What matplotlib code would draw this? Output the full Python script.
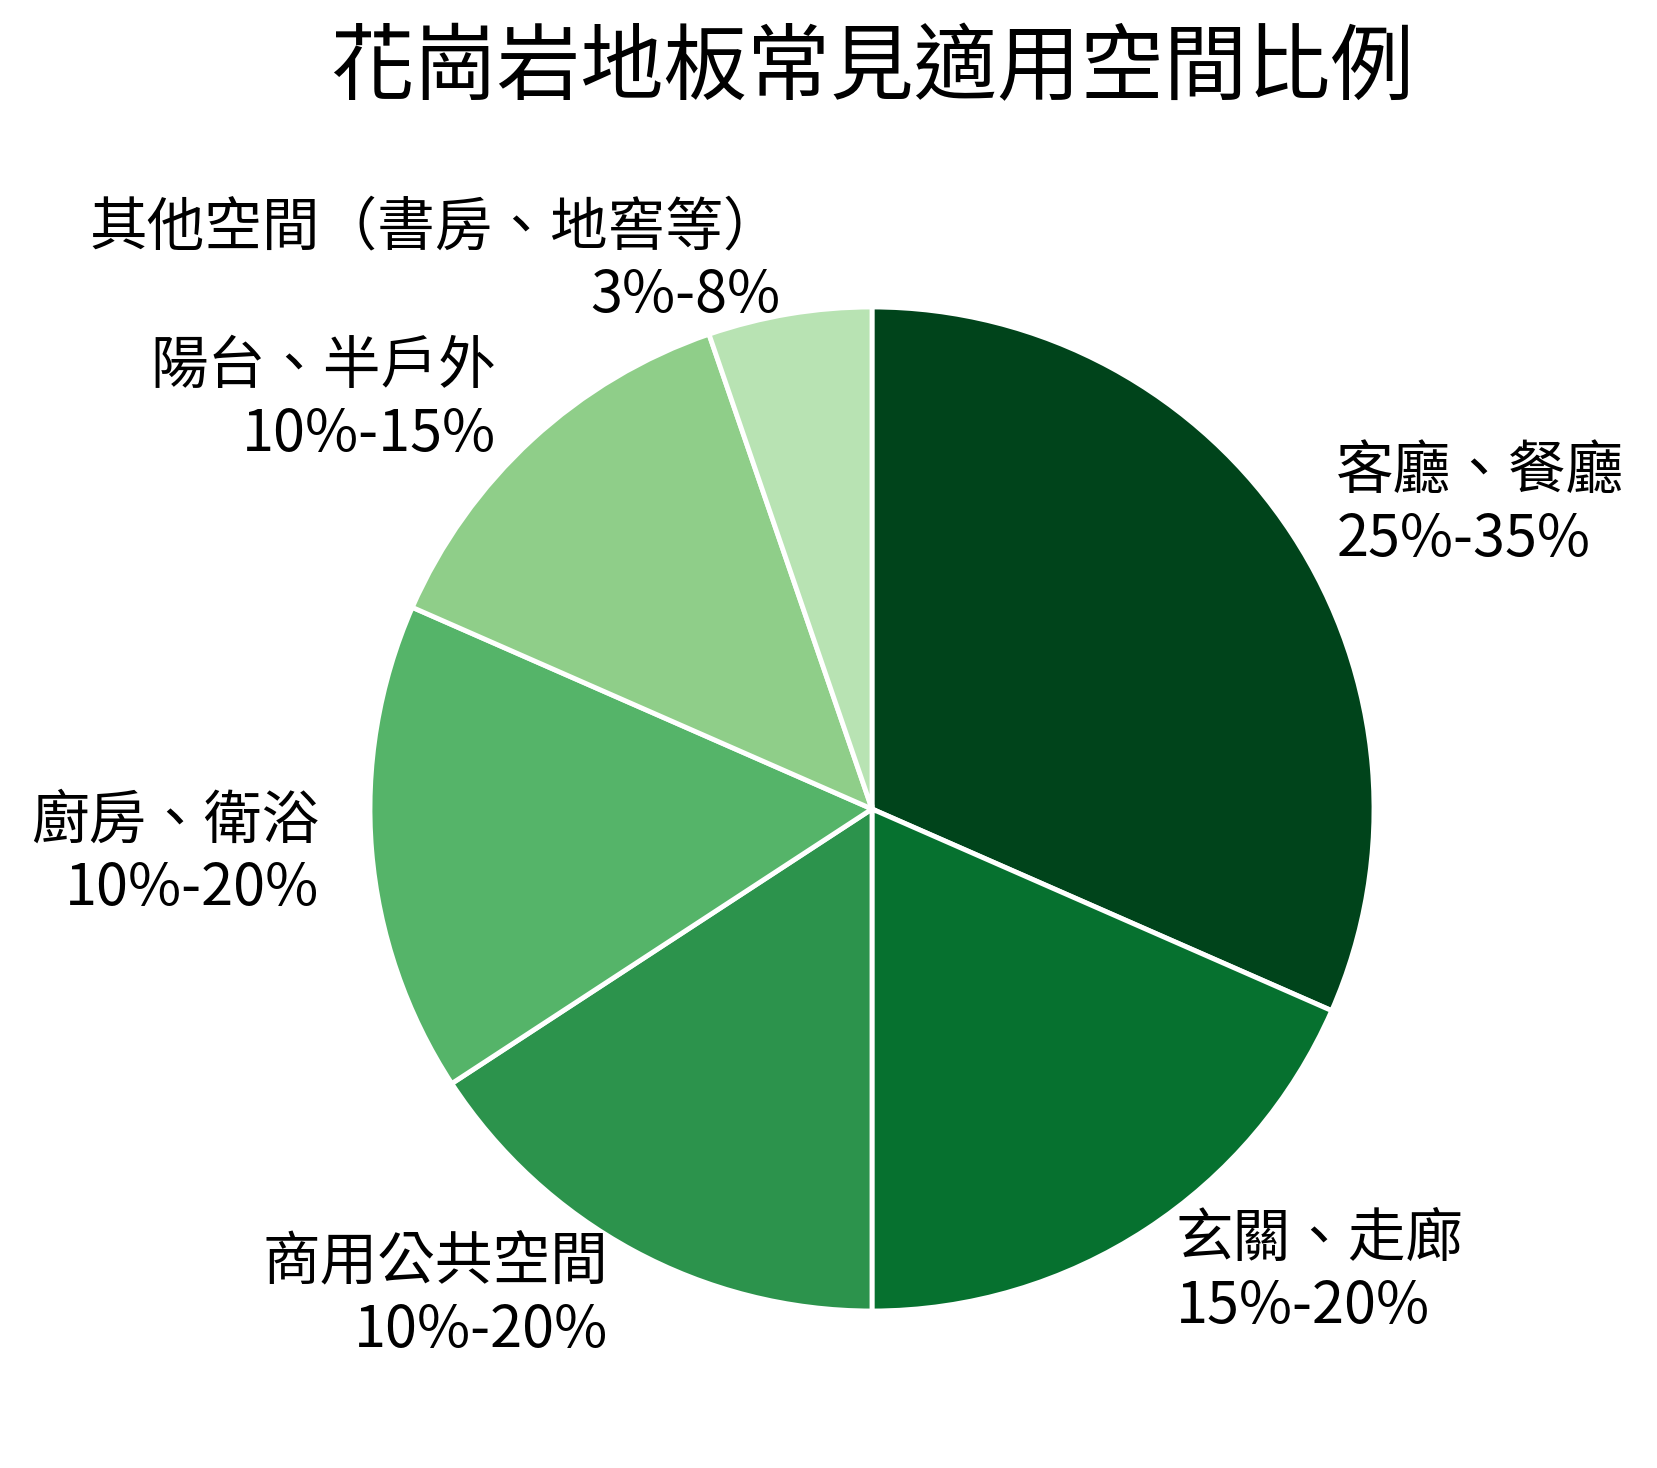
import matplotlib.pyplot as plt

plt.rcParams['font.family'] = ['Noto Sans CJK TC', 'DejaVu Sans']

titulo = '花崗岩地板常見適用空間比例'
espacios = ['客廳、餐廳', '玄關、走廊', '商用公共空間', '廚房、衛浴', '陽台、半戶外', '其他空間（書房、地窖等）']
rangos = ['25%-35%', '15%-20%', '10%-20%', '10%-20%', '10%-15%', '3%-8%']
valores = [30, 17.5, 15, 15, 12.5, 5]
colores = ['#00441b', '#06712f', '#2c934c', '#55b469', '#8fce89', '#b8e3b3']

etiquetas = [f'{e}\n{r}' for e, r in zip(espacios, rangos)]

fig = plt.figure(figsize=(16.58, 14.68), dpi=100)
# centro del pie en (872, 809) px, radio ~502 px
cx, cy, r = 872, 809, 502
ax = fig.add_axes([(cx - r) / 1658, (1468 - cy - r) / 1468, 2 * r / 1658, 2 * r / 1468])

wedges, textos = ax.pie(valores, labels=etiquetas, colors=colores, startangle=90,
                        counterclock=False, labeldistance=1.105,
                        wedgeprops={'edgecolor': 'white', 'linewidth': 3.5},
                        textprops={'fontsize': 41.5, 'color': 'black', 'linespacing': 1.2})
ax.set_xlim(-1, 1)
ax.set_ylim(-1, 1)
ax.set_aspect('equal')

fig.text(cx / 1658, 1 - 69 / 1468, titulo, ha='center', va='center', fontsize=60)

plt.savefig('out.png', dpi=100)
